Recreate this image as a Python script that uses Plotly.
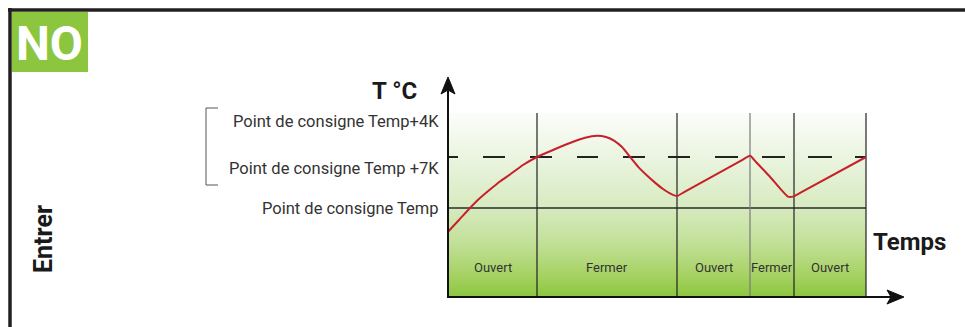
import plotly.graph_objects as go

W, H = 965, 327

# ---------------- data ----------------
phase_labels = ["Ouvert", "Fermer", "Ouvert", "Fermer", "Ouvert"]
phase_bounds = [0.0, 8.9, 22.9, 30.2, 34.6, 41.8]     # time units
setpoint = 20.0                                       # °C
upper_level = 24.0                                    # dashed level
plot_top = 27.45
plot_bottom = 13.02
label_level = 15.37

curve_t = [0.0, 1.1, 2.2, 3.2, 4.2, 5.2, 6.2, 7.5, 8.9, 10.5, 12.2, 13.7, 14.9, 15.8, 16.6, 17.4,
           18.2, 19.0, 19.9, 20.7, 21.5, 22.2, 22.9,
           23.7, 29.4, 30.2, 30.8, 32.2, 34.0, 34.5, 35.3, 41.8]
curve_T = [18.14, 19.06, 20.0, 20.78, 21.45, 22.08, 22.63, 23.37, 24.0, 24.55, 25.1, 25.51, 25.67,
           25.57, 25.29, 24.78, 24.02, 23.25, 22.55, 21.99, 21.49, 21.15, 20.94,
           21.29, 23.75, 24.1, 23.61, 22.45, 20.89, 20.89, 21.22, 24.0]

y_labels = ["Point de consigne Temp+4K", "Point de consigne Temp +7K", "Point de consigne Temp"]
y_label_levels = [26.75, 23.06, 20.0]

# ---------------- scales ----------------
X0_PX, X_SCALE = 448, 10.0
Y0_PX, Y_SCALE = 208, 12.75
x_range = [(0 - X0_PX) / X_SCALE, (W - X0_PX) / X_SCALE]
y_range = [setpoint - (H - Y0_PX) / Y_SCALE, setpoint + Y0_PX / Y_SCALE]


def px(x):
    return x / W


def py(y):
    return 1 - y / H


fig = go.Figure()

# gradient background of the chart area
x_end = phase_bounds[-1]
fig.add_trace(go.Scatter(
    x=[0, x_end, x_end, 0, 0],
    y=[plot_bottom, plot_bottom, plot_top, plot_top, plot_bottom],
    mode="lines", line=dict(width=0), fill="toself",
    fillgradient=dict(type="vertical",
                      colorscale=[[0, "#8cc63f"], [0.12, "#a6d263"], [0.3, "#c3e09a"],
                                  [0.5, "#d8ebc2"], [0.75, "#eaf4df"], [1, "#fcfdfa"]]),
    hoverinfo="skip", showlegend=False))

# setpoint line
fig.add_trace(go.Scatter(x=[0, x_end], y=[setpoint, setpoint], mode="lines",
                         line=dict(color="#2b2b2b", width=1.5), hoverinfo="skip", showlegend=False))

# phase separators
for i, b in enumerate(phase_bounds[1:]):
    col = "#7a7a7a" if i == 2 else "#222222"
    fig.add_trace(go.Scatter(x=[b, b], y=[plot_bottom, plot_top], mode="lines",
                             line=dict(color=col, width=1.2), hoverinfo="skip", showlegend=False))

# dashed upper level
fig.add_trace(go.Scatter(
    x=[0, x_end], y=[upper_level, upper_level], mode="lines",
    line=dict(color="#222222", width=2,
              dash="10px,25px,22px,25px,22px,25px,21px,25px,22px,23px,22px,25px,23px,24px,23px,23px,24px,23px,11px"),
    hoverinfo="skip", showlegend=False))

# temperature curve
fig.add_trace(go.Scatter(x=curve_t, y=curve_T, mode="lines",
                         line=dict(color="#c8202a", width=2, shape="spline", smoothing=0.5),
                         hoverinfo="skip", showlegend=False))

shapes = []
# frame
shapes.append(dict(type="line", xref="paper", yref="paper", x0=px(8), x1=px(W), y0=py(10), y1=py(10),
                   line=dict(color="#231f20", width=3.5)))
shapes.append(dict(type="line", xref="paper", yref="paper", x0=px(10), x1=px(10), y0=py(8), y1=py(H),
                   line=dict(color="#231f20", width=3.5)))
# green badge
shapes.append(dict(type="rect", xref="paper", yref="paper", x0=px(12), x1=px(88), y0=py(12), y1=py(72),
                   fillcolor="#8cc63f", line=dict(width=0)))
# bracket
shapes.append(dict(type="path", xref="paper", yref="paper",
                   path=f"M {px(218)} {py(108)} L {px(206)} {py(108)} L {px(206)} {py(185)} L {px(218)} {py(185)}",
                   line=dict(color="#555555", width=1)))
# axes
shapes.append(dict(type="line", xref="paper", yref="paper", x0=px(448), x1=px(448), y0=py(298), y1=py(88),
                   line=dict(color="#111111", width=2)))
shapes.append(dict(type="line", xref="paper", yref="paper", x0=px(447), x1=px(895), y0=py(297), y1=py(297),
                   line=dict(color="#111111", width=2)))
shapes.append(dict(type="path", xref="paper", yref="paper",
                   path=f"M {px(448)} {py(77)} L {px(455)} {py(94)} L {px(448)} {py(90)} L {px(441)} {py(94)} Z",
                   fillcolor="#111111", line=dict(color="#111111", width=1)))
shapes.append(dict(type="path", xref="paper", yref="paper",
                   path=f"M {px(904)} {py(297)} L {px(887)} {py(290)} L {px(891)} {py(297)} L {px(887)} {py(304)} Z",
                   fillcolor="#111111", line=dict(color="#111111", width=1)))

annotations = []
FONT = "Roboto"
# phase labels
for i, lab in enumerate(phase_labels):
    annotations.append(dict(x=(phase_bounds[i] + phase_bounds[i + 1]) / 2, y=label_level, xref="x", yref="y",
                            text=lab, showarrow=False, font=dict(family=FONT, size=13, color="#333333")))
# y labels
for lab, lev in zip(y_labels, y_label_levels):
    annotations.append(dict(x=px(441), y=lev, xref="paper", yref="y", text=lab, showarrow=False,
                            xanchor="right", yanchor="middle",
                            font=dict(family=FONT, size=16.5, color="#333333")))
annotations.append(dict(x=px(419), y=py(91), xref="paper", yref="paper", text="<b>T °C</b>", showarrow=False,
                        xanchor="right", yanchor="middle", font=dict(family=FONT, size=24, color="#1a1a1a")))
annotations.append(dict(x=px(871), y=py(242), xref="paper", yref="paper", text="<b>Temps</b>", showarrow=False,
                        xanchor="left", yanchor="middle", font=dict(family=FONT, size=24, color="#1a1a1a")))
annotations.append(dict(x=px(43), y=py(239), xref="paper", yref="paper", text="<b>Entrer</b>", showarrow=False,
                        textangle=-90, xanchor="center", yanchor="middle",
                        font=dict(family=FONT, size=25, color="#1a1a1a")))
annotations.append(dict(x=px(49), y=py(43), xref="paper", yref="paper", text="<b>NO</b>", showarrow=False,
                        xanchor="center", yanchor="middle",
                        font=dict(family=FONT, size=48, color="#ffffff")))

fig.update_layout(
    width=W, height=H,
    margin=dict(l=0, r=0, t=0, b=0),
    paper_bgcolor="white", plot_bgcolor="white",
    xaxis=dict(range=x_range, visible=False, fixedrange=True),
    yaxis=dict(range=y_range, visible=False, fixedrange=True),
    shapes=shapes, annotations=annotations,
    showlegend=False,
)

fig.write_html("out.html", config={"displayModeBar": False},
               post_script="document.body.style.margin='0';document.body.style.overflow='hidden';")
